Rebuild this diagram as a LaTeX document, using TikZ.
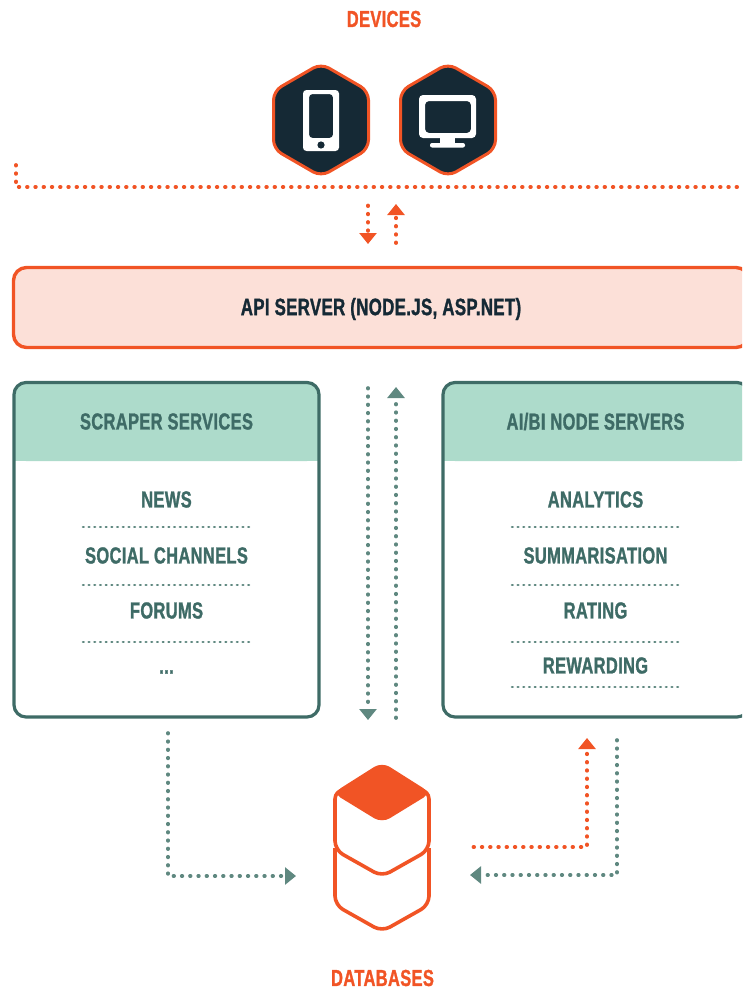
\documentclass[tikz,border=0pt]{standalone}
\usepackage{fontspec}
\setmainfont{Liberation Sans}[Scale=1]
\newfontfamily\condf{Liberation Sans}[FakeStretch=0.71,BoldFont={Liberation Sans Bold},BoldFeatures={FakeBold=1.2},LetterSpace=1.5]
\usetikzlibrary{arrows.meta,calc}
\definecolor{orangeC}{HTML}{F15425}
\definecolor{darkC}{HTML}{152935}
\definecolor{tealC}{HTML}{3E6B66}
\definecolor{dotC}{HTML}{5F8880}
\definecolor{mintC}{HTML}{ADDBCB}
\definecolor{peachC}{HTML}{FCE0D8}
\tikzset{
  x=1pt,y=-1pt,
  lbl/.style={inner sep=0pt,font=\condf\bfseries\fontsize{23.2}{24}\selectfont,text=tealC},
  hdr/.style={lbl,text=orangeC},
  api/.style={lbl,text=darkC,font=\condf\bfseries\fontsize{23.7}{24}\selectfont},
  odots/.style={draw=orangeC,line width=3.8pt,line cap=round,dash pattern=on 0.6pt off 7.65pt},
  gdots/.style={draw=dotC,line width=3.7pt,line cap=round,dash pattern=on 0.6pt off 7.65pt},
  sdots/.style={draw=dotC,line width=2.6pt,line cap=round,dash pattern=on 0.7pt off 5pt},
  otip/.style={-{Triangle[length=11pt,width=17pt,fill=orangeC,color=orangeC]}},
  gtip/.style={-{Triangle[length=11pt,width=17pt,fill=dotC,color=dotC]}},
  hexa/.style={draw=orangeC,fill=darkC,line width=3pt,rounded corners=9pt},
  dbline/.style={draw=orangeC,line width=3.6pt,rounded corners=9pt,line join=round},
  panel/.style={draw=tealC,line width=3.2pt,rounded corners=12pt},
}
\begin{document}
\begin{tikzpicture}
\useasboundingbox (0,0) rectangle (742,990);
\clip (0,0) rectangle (742,990);
% labels
\node[hdr] (devices) at (384,19) {DEVICES};
\node[hdr] (databases) at (382.5,978) {DATABASES};
% device hexagons
\foreach \cx/\nm in {321/hexone,448/hextwo}{
  \draw[hexa] (\cx,63.5) -- (\cx+47.5,91) -- (\cx+47.5,149) -- (\cx,176.5) -- (\cx-47.5,149) -- (\cx-47.5,91) -- cycle;
}
% phone
\fill[white,rounded corners=3.5pt,even odd rule] (303,90) rectangle (339,151) (309,94) rectangle (333,138);
\fill[darkC] (321,145) circle (3.6pt);
% monitor
\fill[white,rounded corners=4pt,even odd rule] (419,95) rectangle (476,138) (425,101) rectangle (471,133);
\fill[white] (440,137) rectangle (455,144);
\fill[white,rounded corners=2pt] (430,143) rectangle (465,147.5);
% top connectors
\coordinate (busA) at (16,165);
\coordinate (busB) at (16,187);
\coordinate (busC) at (745,187);
\draw[odots] (busA) -- (busB) -- (busC);
\coordinate (dnA) at (368,205.5);
\coordinate (dnB) at (368,244);
\coordinate (upA) at (396,243);
\coordinate (upB) at (396,204);
\draw[odots,otip] (dnA) -- (dnB);
\draw[odots,otip] (upA) -- (upB);
% API server
\draw[draw=orangeC,fill=peachC,line width=3.4pt,rounded corners=13pt] (13.5,267.5) rectangle (749,347.5);
\node[api] (apiserver) at (381,309) {API SERVER (NODE.JS, ASP.NET)};
% left panel
\fill[mintC,rounded corners=12pt] (14,382.5) -- (319,382.5) -- (319,461) -- (14,461) -- cycle;
\fill[mintC] (14,420) rectangle (319,461);
\draw[panel] (14,382.5) rectangle (319,717);
\node[lbl] (scraper) at (166.5,421.5) {SCRAPER SERVICES};
\node[lbl] (news) at (166.5,499.5) {NEWS};
\node[lbl] (social) at (166.5,555.5) {SOCIAL CHANNELS};
\node[lbl] (forums) at (166.5,610.5) {FORUMS};
\node[lbl] (more) at (166.5,672) {...};
\foreach \yy in {527,585,642}{
  \draw[sdots] (83,\yy) -- (251,\yy);
}
% right panel
\fill[mintC,rounded corners=12pt] (443,382.5) -- (749,382.5) -- (749,461) -- (443,461) -- cycle;
\fill[mintC] (443,420) rectangle (749,461);
\draw[panel] (443,382.5) rectangle (749,717);
\node[lbl] (aibi) at (595.5,421.5) {AI/BI NODE SERVERS};
\node[lbl] (analytics) at (595.5,499.5) {ANALYTICS};
\node[lbl] (summ) at (595.5,555.5) {SUMMARISATION};
\node[lbl] (rating) at (595.5,610.5) {RATING};
\node[lbl] (reward) at (595.5,665.5) {REWARDING};
\foreach \yy in {527,585,642,687}{
  \draw[sdots] (512,\yy) -- (680,\yy);
}
% middle connectors
\coordinate (mA) at (368,388);
\coordinate (mB) at (368,720);
\coordinate (mC) at (396,718);
\coordinate (mD) at (396,387);
\draw[gdots,gtip] (mA) -- (mB);
\draw[gdots,gtip] (mC) -- (mD);
% database
\draw[dbline] (335,848) -- (335,905) -- (382,931.5) -- (429,905) -- (429,848);
\draw[dbline,fill=white] (335,790) -- (335,850) -- (382,876.5) -- (429,850) -- (429,790) -- cycle;
\fill[orangeC,rounded corners=9pt] (333,793) -- (382,762) -- (431,793) -- (382,823) -- cycle;
% bottom connectors
\coordinate (lA) at (168,733);
\coordinate (lB) at (168,876);
\coordinate (lC) at (296,876);
\draw[gdots,gtip] (lA) -- (lB) -- (lC);
\coordinate (rA) at (473.5,847);
\coordinate (rB) at (587,847);
\coordinate (rC) at (587,738);
\draw[odots,otip] (rA) -- (rB) -- (rC);
\coordinate (gA) at (617,740);
\coordinate (gB) at (617,875);
\coordinate (gC) at (470,875);
\draw[gdots,gtip] (gA) -- (gB) -- (gC);
\end{tikzpicture}
\end{document}
